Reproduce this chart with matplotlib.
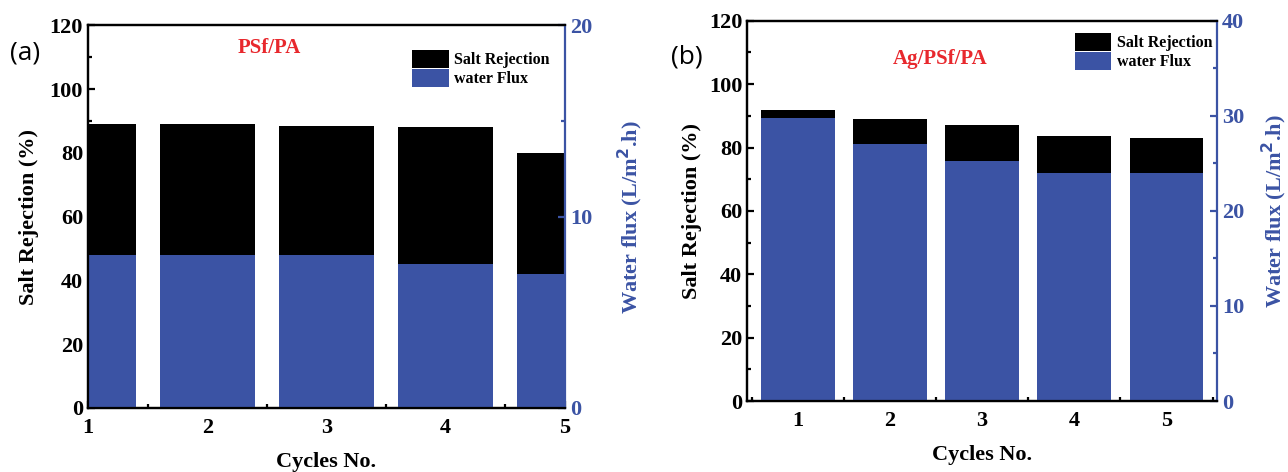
import matplotlib.pyplot as plt
from matplotlib.ticker import MultipleLocator
from matplotlib.patches import Patch
import numpy as np

# data
cycles = [1, 2, 3, 4, 5]
rej_a = [89.0, 89.0, 88.5, 88.0, 80.0]
flux_a = [8.0, 8.0, 8.0, 7.5, 7.0]
rej_b = [92.0, 89.0, 87.0, 83.7, 83.0]
flux_b = [29.8, 27.0, 25.2, 24.0, 24.0]

blue = '#3b53a4'
red = '#e8282d'
serif = 'Liberation Serif'

plt.rcParams['font.family'] = serif
plt.rcParams['font.weight'] = 'bold'
plt.rcParams['axes.linewidth'] = 1.6

fig = plt.figure(figsize=(12.88, 4.72), dpi=100)


def panel(rect, rej, flux, xlim, fluxmax, title, letter, title_xy, leg_anchor,
          xlabel_y, pad_l, pad_r, letter_xy):
    ax = fig.add_axes(rect)
    ax2 = ax.twinx()
    ax.bar(cycles, rej, width=0.8, color='black')
    ax2.bar(cycles, flux, width=0.8, color=blue)
    ax.set_xlim(*xlim)
    ax.set_ylim(0, 120)
    ax2.set_ylim(0, fluxmax)
    ax.set_xticks(cycles)
    ax.xaxis.set_minor_locator(MultipleLocator(0.5))
    ax.yaxis.set_major_locator(MultipleLocator(20))
    ax.yaxis.set_minor_locator(MultipleLocator(10))
    ax2.yaxis.set_major_locator(MultipleLocator(10))
    ax2.yaxis.set_minor_locator(MultipleLocator(5))
    ax.tick_params(which='both', direction='in', labelsize=16, width=1.6)
    ax.tick_params(which='major', length=5)
    ax.tick_params(which='minor', length=3)
    ax.tick_params(axis='x', pad=7)
    ax2.tick_params(which='both', direction='in', labelsize=16, width=1.6,
                    colors=blue)
    ax2.tick_params(which='major', length=5)
    ax2.tick_params(which='minor', length=3)
    ax2.spines['right'].set_color(blue)
    ax.spines['right'].set_visible(False)
    for lab in ax.get_xticklabels() + ax.get_yticklabels() + ax2.get_yticklabels():
        lab.set_fontweight('bold')
    ax.set_ylabel('Salt Rejection (%)', fontsize=16, fontweight='bold', labelpad=pad_l)
    ax2.set_ylabel('Water flux (L/m$^2$.h)', fontsize=16, fontweight='bold',
                   color=blue, labelpad=pad_r)
    ax.set_xlabel('Cycles No.', fontsize=16, fontweight='bold')
    ax.xaxis.set_label_coords(0.5, xlabel_y)
    ax.text(title_xy[0], title_xy[1], title, transform=ax.transAxes, color=red,
            fontsize=15, fontweight='bold', ha='center', va='center')
    handles = [Patch(facecolor='black'), Patch(facecolor=blue)]
    ax2.legend(handles, ['Salt Rejection', 'water Flux'], loc='upper right',
               bbox_to_anchor=leg_anchor, frameon=False,
               prop={'family': serif, 'weight': 'bold', 'size': 11.5},
               handlelength=2.3, handleheight=1.35, labelspacing=0.05,
               handletextpad=0.35, borderaxespad=0, borderpad=0)
    fig.text(letter_xy[0], letter_xy[1], letter,
             fontsize=19, fontweight='normal', family='Open Sans',
             ha='center', va='center')
    return ax, ax2


panel([0.0683, 0.1356, 0.3703, 0.811], rej_a, flux_a, (1, 5), 20,
      'PSf/PA', '(a)', (0.38, 0.94), (0.968, 0.935), -0.115, 8, 17,
      (25 / 1288, 1 - 53 / 472))
panel([0.58, 0.1504, 0.365, 0.8055], rej_b, flux_b, (0.45, 5.55), 40,
      'Ag/PSf/PA', '(b)', (0.41, 0.9), (0.99, 0.968), -0.115, 5, 11,
      (687 / 1288, 1 - 57 / 472))

fig.savefig('out.png', dpi=100)
